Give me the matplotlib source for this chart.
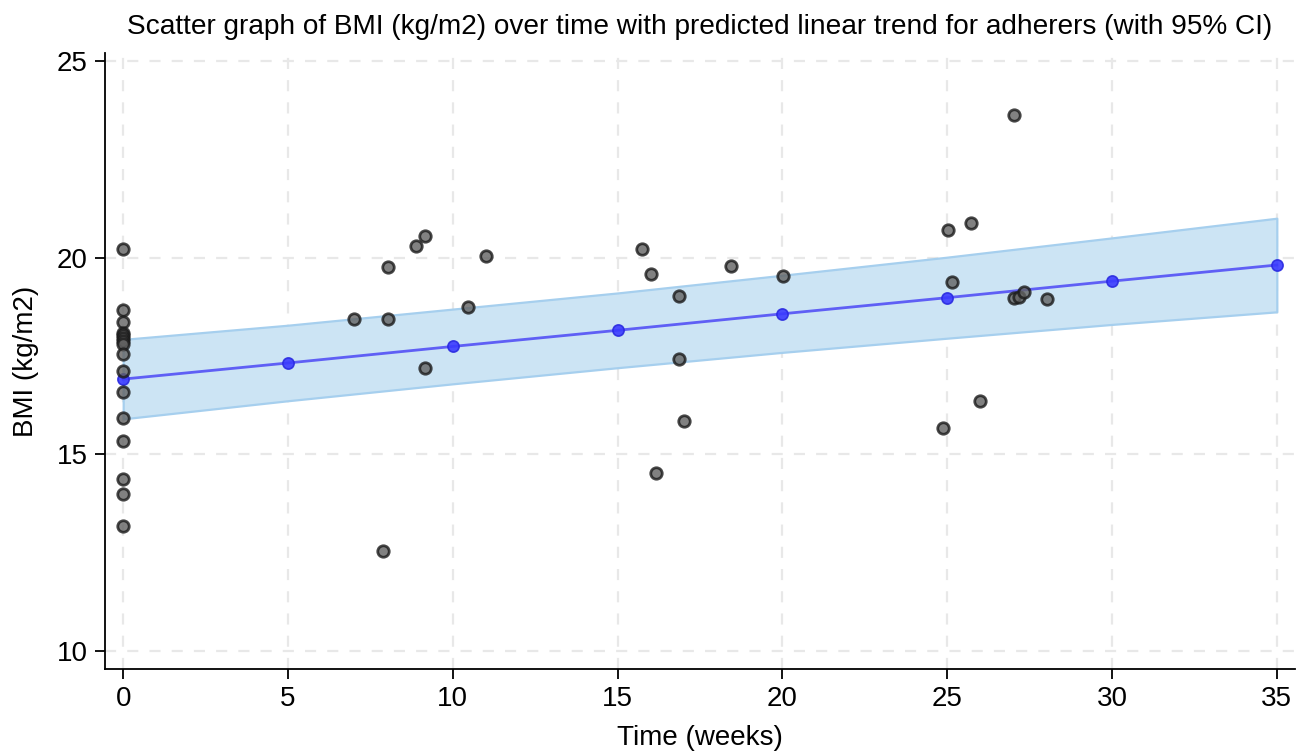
import matplotlib
matplotlib.use("Agg")
import matplotlib.pyplot as plt
import numpy as np

plt.rcParams['font.family'] = ['Liberation Sans', 'DejaVu Sans']

# Observed data (weeks, BMI)
obs_time = [0, 0, 0, 0, 0, 0, 0, 0, 0, 0, 0, 0, 0, 0, 0, 0,
            7.01, 7.88, 8.02, 8.02, 8.88, 9.16, 9.16, 10.45, 11.02,
            15.73, 16.01, 16.17, 16.87, 16.87, 17.02, 18.44, 20.02,
            24.87, 25.02, 25.16, 25.72, 26.01, 27.02, 27.02, 27.17, 27.33, 28.03]
obs_bmi = [20.21, 18.67, 18.35, 18.08, 18.02, 17.95, 17.88, 17.80, 17.56, 17.12,
           16.59, 15.91, 15.33, 14.36, 13.99, 13.17,
           18.45, 12.55, 19.75, 18.43, 20.30, 20.56, 17.18, 18.75, 20.04,
           20.22, 19.58, 14.52, 19.01, 17.42, 15.85, 19.79, 19.52,
           15.66, 20.69, 19.39, 20.87, 16.36, 23.63, 18.97, 18.99, 19.12, 18.94]

# Predicted trend with 95% CI
pred_time = [0, 5, 10, 15, 20, 25, 30, 35]
pred_bmi = [16.91, 17.32, 17.74, 18.15, 18.57, 18.98, 19.40, 19.81]
ci_lower = [15.90, 16.36, 16.79, 17.20, 17.59, 17.95, 18.30, 18.62]
ci_upper = [17.92, 18.28, 18.69, 19.10, 19.55, 20.01, 20.50, 21.00]

x_ticks = [0, 5, 10, 15, 20, 25, 30, 35]
y_ticks = [10, 15, 20, 25]

fig = plt.figure(figsize=(13.1, 7.55), dpi=100)
ax = fig.add_axes([0.0802, 0.1139, 0.9083, 0.8159])

ax.fill_between(pred_time, ci_lower, ci_upper, facecolor='#cce4f4',
                edgecolor='#a6cfee', linewidth=1.6, zorder=2)
ax.plot(pred_time, pred_bmi, color='#5f5ff5', linewidth=2, zorder=3)
ax.scatter(pred_time, pred_bmi, s=65, color='#3b3bff', edgecolor='#2a2ae0',
           linewidth=1.2, alpha=0.9, zorder=4)
ax.scatter(obs_time, obs_bmi, s=68, color='#626262', edgecolor='#1a1a1a',
           linewidth=2.0, alpha=0.8, zorder=5)

ax.set_xlim(-0.55, 35.55)
ax.set_ylim(9.54, 25.2)
ax.set_xticks(x_ticks)
ax.set_yticks(y_ticks)
ax.grid(True, color='#e8e8e8', linestyle=(0, (5, 5)), linewidth=1.6, zorder=0)
ax.set_axisbelow(True)
for s in ['top', 'right']:
    ax.spines[s].set_visible(False)
for s in ['left', 'bottom']:
    ax.spines[s].set_linewidth(1.3)
ax.tick_params(direction='out', length=7.5, width=1.3, labelsize=20, pad=5)

ax.set_title('Scatter graph of BMI (kg/m2) over time with predicted linear trend for adherers (with 95% CI)',
             fontsize=20.2, pad=14)
ax.set_xlabel('Time (weeks)', fontsize=20, labelpad=9)
ax.set_ylabel('BMI (kg/m2)', fontsize=20, labelpad=13)

fig.savefig('out.png', dpi=100)
